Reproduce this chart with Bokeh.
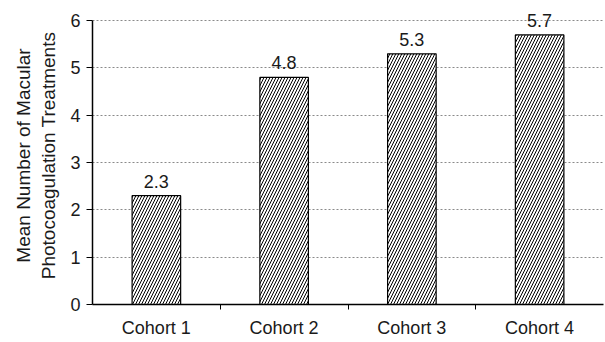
from bokeh.plotting import figure
from bokeh.models import ColumnDataSource, FixedTicker, LabelSet
from bokeh.core.properties import value
from bokeh.embed import file_html
from bokeh.resources import INLINE

categories = ["Cohort 1", "Cohort 2", "Cohort 3", "Cohort 4"]
values = [2.3, 4.8, 5.3, 5.7]
value_labels = ["2.3", "4.8", "5.3", "5.7"]
positions = [1, 2, 3, 4]
boundaries = [1.5, 2.5, 3.5]
y_ticks = [0, 1, 2, 3, 4, 5, 6]

FONT = "Liberation Sans"
TXT = "#1a1a1a"

src = ColumnDataSource(dict(x=positions, top=values, lab=value_labels))

p = figure(width=605, height=342, x_range=(0.5, 4.5), y_range=(0, 6.3),
           output_backend="svg", toolbar_location=None,
           min_border_left=92, min_border_right=2, min_border_top=6,
           min_border_bottom=38)
p.outline_line_color = None
p.background_fill_color = "white"

p.vbar(x="x", top="top", width=0.38, source=src, fill_color="white",
       line_color="black", line_width=1.2,
       hatch_pattern="/", hatch_color="black", hatch_scale=6, hatch_weight=1)

labels = LabelSet(x="x", y="top", text="lab", source=src, text_align="center",
                  text_baseline="bottom", y_offset=8, text_font=value(FONT),
                  text_font_size="18px", text_color=TXT)
p.add_layout(labels)

p.xaxis.ticker = FixedTicker(ticks=positions, minor_ticks=boundaries)
p.xaxis.major_label_overrides = {pos: c for pos, c in zip(positions, categories)}
p.xaxis.major_tick_line_color = None
p.xaxis.minor_tick_line_color = "black"
p.xaxis.minor_tick_out = 5
p.xaxis.minor_tick_in = 0
p.xaxis.axis_line_color = "black"
p.xaxis.axis_line_width = 1.5
p.xaxis.major_label_text_font = FONT
p.xaxis.major_label_text_font_size = "18px"
p.xaxis.major_label_text_color = TXT
p.xaxis.major_label_standoff = 7

p.yaxis.ticker = FixedTicker(ticks=y_ticks)
p.yaxis.bounds = (0, 6)
p.yaxis.minor_tick_line_color = None
p.yaxis.major_tick_out = 6
p.yaxis.major_tick_in = 0
p.yaxis.axis_line_color = "black"
p.yaxis.axis_line_width = 1.5
p.yaxis.major_label_text_font = FONT
p.yaxis.major_label_text_font_size = "18px"
p.yaxis.major_label_text_color = TXT
p.yaxis.major_label_standoff = 6
p.yaxis.axis_label = "Mean Number of Macular\nPhotocoagulation Treatments"
p.yaxis.axis_label_text_font = FONT
p.yaxis.axis_label_text_font_size = "19px"
p.yaxis.axis_label_text_font_style = "normal"
p.yaxis.axis_label_text_color = TXT
p.yaxis.axis_label_standoff = 8

p.xgrid.grid_line_color = None
p.ygrid.grid_line_color = "#8a8a8a"
p.ygrid.grid_line_dash = "2 2"
p.ygrid.grid_line_width = 1

open("out.html", "w").write(file_html(p, INLINE))
